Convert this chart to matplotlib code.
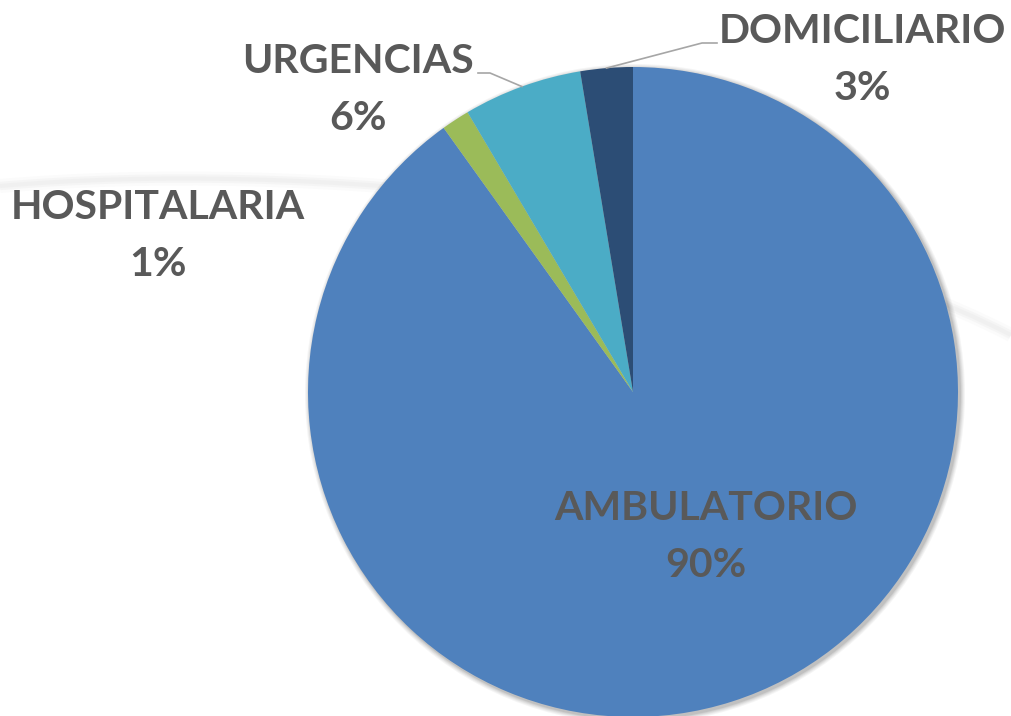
import numpy as np
import matplotlib
matplotlib.use("Agg")
import matplotlib.pyplot as plt
from matplotlib.path import Path
from matplotlib.patches import PathPatch, Circle

categories = ["AMBULATORIO", "HOSPITALARIA", "URGENCIAS", "DOMICILIARIO"]
values = [90.1, 1.4, 5.9, 2.6]
colors = ["#4F81BD", "#9BBB59", "#4BACC6", "#2C4D75"]

W, H = 1011, 716
fig = plt.figure(figsize=(W / 100, H / 100), dpi=100)
ax = fig.add_axes([0, 0, 1, 1])
ax.set_xlim(0, W)
ax.set_ylim(0, H)
ax.axis("off")

# decorative background swoosh
verts = [(0, H - 186), (300, H - 160), (750, H - 200), (1011, H - 335)]
path = Path(verts, [Path.MOVETO, Path.CURVE4, Path.CURVE4, Path.CURVE4])
for lw, a in [(10, 0.2), (6, 0.35), (3, 0.45)]:
    ax.add_patch(PathPatch(path, fill=False, ec="#ebebeb", lw=lw, alpha=a, zorder=0))

cx, cy, r = 633, H - 392, 325
# soft shadow
for i, a in enumerate([0.04, 0.04, 0.05, 0.06, 0.08]):
    ax.add_patch(Circle((cx + 2, cy - 2), r + 5 - i, color="#000000", alpha=a, lw=0, zorder=1))

wedges, _ = ax.pie(values, colors=colors, startangle=90, counterclock=False,
                   center=(cx, cy), radius=r, frame=True,
                   wedgeprops=dict(linewidth=0, zorder=2))
ax.set_xlim(0, W)
ax.set_ylim(0, H)
ax.set_aspect("equal", adjustable="box")
ax.axis("off")

txt = dict(fontfamily="Lato", fontweight="bold", color="#595959", fontsize=29.5,
           ha="center", va="center", zorder=5, linespacing=1.67)
label_pos = {
    "AMBULATORIO": (706, H - 537),
    "HOSPITALARIA": (158, H - 236),
    "URGENCIAS": (358, H - 90),
    "DOMICILIARIO": (862, H - 60),
}
for w, cat, v in zip(wedges, categories, values):
    x, y = label_pos[cat]
    ax.text(x, y, f"{cat}\n{round(v):.0f}%", **txt)

# leader lines for small slices
def edge_point(w):
    th = np.deg2rad((w.theta1 + w.theta2) / 2)
    return cx + r * np.cos(th), cy + r * np.sin(th)

ex, ey = edge_point(wedges[2])
ax.plot([478, 490, ex], [H - 73, H - 73, ey], color="#a6a6a6", lw=1.2, zorder=3)
ex, ey = edge_point(wedges[3])
ax.plot([717, 702, ex], [H - 43, H - 43, ey], color="#a6a6a6", lw=1.2, zorder=3)

fig.savefig("out.png", dpi=100)
